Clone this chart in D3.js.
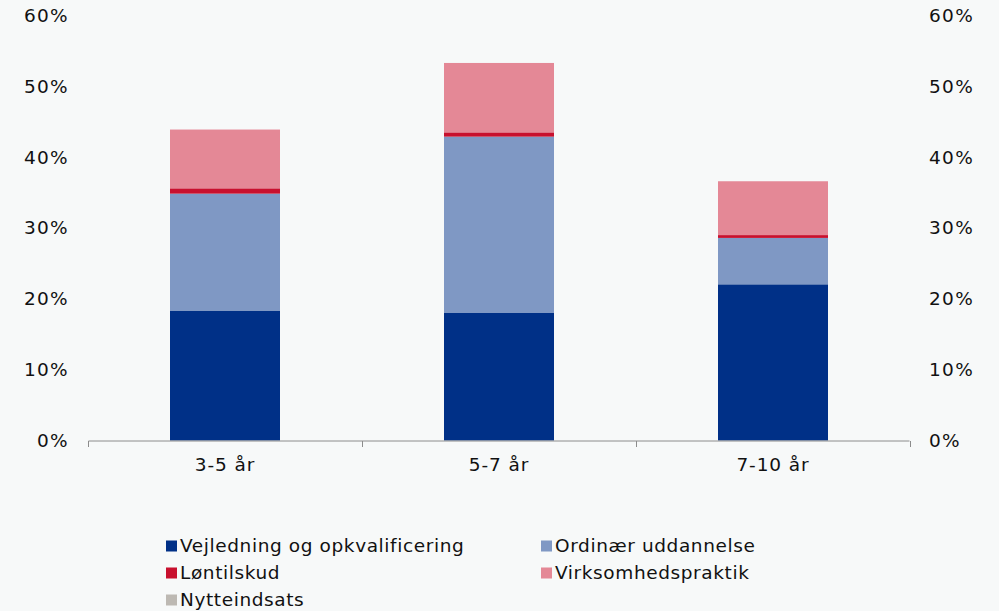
<!DOCTYPE html>
<html><head><meta charset="utf-8">
<script src="https://cdn.jsdelivr.net/npm/d3@7"></script>
<style>
html,body{margin:0;padding:0;background:#f7f9f9;}
svg{display:block;font-family:"DejaVu Sans",Verdana,sans-serif;}
</style></head>
<body><svg id="c" width="999" height="611"></svg>
<script>
const categories = ["3-5 år", "5-7 år", "7-10 år"];
const seriesNames = ["Vejledning og opkvalificering", "Ordinær uddannelse", "Løntilskud", "Virksomhedspraktik", "Nytteindsats"];
const vejledning = [18.35, 18.0, 22.05];
const ordinaer = [16.5, 24.9, 6.55];
const loentilskud = [0.75, 0.6, 0.4];
const virksomhed = [8.3, 9.8, 7.6];
const nytteindsats = [0, 0, 0];
const colors = ["#003087", "#7f98c4", "#c8102e", "#e48896", "#bdb9b3"];
const yTicks = [0, 10, 20, 30, 40, 50, 60];

const seriesValues = [vejledning, ordinaer, loentilskud, virksomhed, nytteindsats];
const rows = categories.map((c, i) => {
  const r = {cat: c};
  seriesNames.forEach((s, j) => r[s] = seriesValues[j][i]);
  return r;
});
const stack = d3.stack().keys(seriesNames)(rows);

const svg = d3.select("#c");
const x = d3.scaleBand().domain(categories).range([88, 910]).paddingInner(0).paddingOuter(0);
const y = d3.scaleLinear().domain([0, 60]).range([440.5, 15.5]);
const barW = 110;
const FS = 18.5;

const g = svg.append("g");
stack.forEach((layer, j) => {
  g.selectAll(null).data(layer).enter().append("rect")
    .attr("x", d => x(d.data.cat) + x.bandwidth()/2 - barW/2)
    .attr("width", barW)
    .attr("y", d => y(d[1]))
    .attr("height", d => Math.max(0, y(d[0]) - y(d[1])))
    .attr("fill", colors[j]);
});

// x axis
const xAxis = d3.axisBottom(x).tickSize(0).tickPadding(17);
const xg = svg.append("g").attr("transform", "translate(0,441)").call(xAxis);
xg.select(".domain").attr("stroke", "#8c8c8c").attr("d", "M88.5,0H909.5");
xg.selectAll("text").attr("font-size", FS).attr("letter-spacing", "0.9px").attr("fill", "#111").attr("font-family", "DejaVu Sans, Verdana, sans-serif");
const bounds = [0,1,2,3].map(i => 88 + i * x.bandwidth());
svg.append("g").selectAll("line").data(bounds).enter().append("line")
  .attr("x1", d => Math.round(d) + 0.5).attr("x2", d => Math.round(d) + 0.5)
  .attr("y1", 441).attr("y2", 447).attr("stroke", "#8c8c8c");

// y axes (labels only)
const yl = d3.axisLeft(y).tickValues(yTicks).tickSize(0).tickPadding(0).tickFormat(d => d + "%");
const ylg = svg.append("g").attr("transform", "translate(69,0)").call(yl);
ylg.select(".domain").remove();
ylg.selectAll("text").attr("font-size", FS).attr("letter-spacing", "1.3px").attr("fill", "#111").attr("font-family", "DejaVu Sans, Verdana, sans-serif");
const yr = d3.axisRight(y).tickValues(yTicks).tickSize(0).tickPadding(0).tickFormat(d => d + "%");
const yrg = svg.append("g").attr("transform", "translate(929,0)").call(yr);
yrg.select(".domain").remove();
yrg.selectAll("text").attr("font-size", FS).attr("letter-spacing", "1.3px").attr("fill", "#111").attr("font-family", "DejaVu Sans, Verdana, sans-serif");

// legend
const legPos = [[166, 546], [541, 546], [166, 573], [541, 573], [166, 600]];
const leg = svg.append("g");
seriesNames.forEach((s, j) => {
  const [lx, ly] = legPos[j];
  leg.append("rect").attr("x", lx).attr("y", ly - 5.5).attr("width", 11).attr("height", 11).attr("fill", colors[j]);
  leg.append("text").attr("x", lx + 14).attr("y", ly).attr("dy", "0.35em")
    .attr("font-size", FS).attr("letter-spacing", "0.6px").attr("fill", "#111").text(s);
});
</script></body></html>
